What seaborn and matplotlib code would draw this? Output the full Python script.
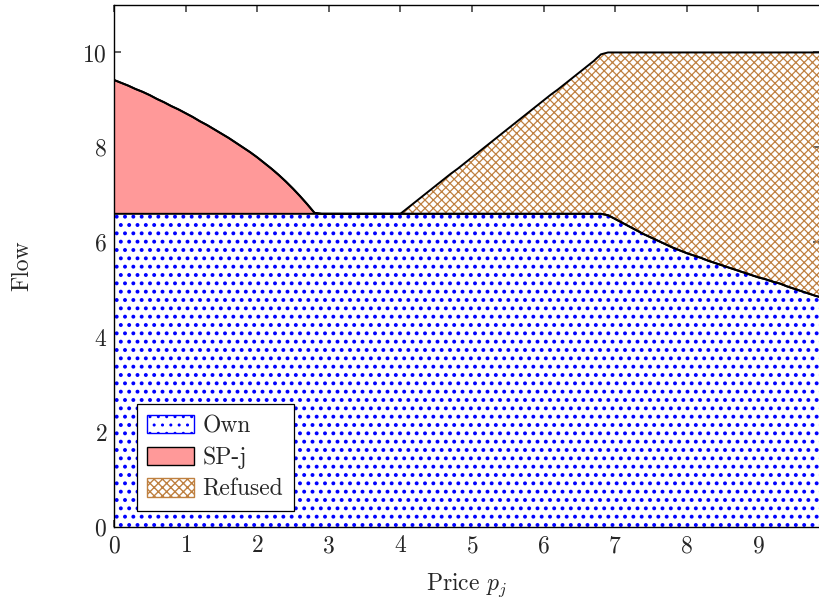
import numpy as np
import pandas as pd
import seaborn as sns
import matplotlib.pyplot as plt
from matplotlib.patches import Patch

# price grid (step of 0.1)
price = np.round(np.arange(0, 10.0, 0.1), 1)

# own flow: flat at 6.6 up to p=6.8, then falling
own = [6.6] * 69 + [
    6.57, 6.49, 6.41, 6.33, 6.25, 6.17, 6.10, 6.03, 5.96, 5.89, 5.83,
    5.77, 5.72, 5.67, 5.61, 5.56, 5.51, 5.46, 5.41, 5.36, 5.31,
    5.26, 5.22, 5.17, 5.13, 5.07, 5.02, 4.97, 4.92, 4.87, 4.83,
]

# SP-j flow on top of own
spj = [
    2.82, 2.76, 2.70, 2.63, 2.57, 2.50, 2.42, 2.35, 2.27, 2.20,
    2.12, 2.04, 1.95, 1.87, 1.78, 1.69, 1.60, 1.50, 1.40, 1.30,
    1.19, 1.07, 0.95, 0.82, 0.68, 0.53, 0.37, 0.20, 0.02,
] + [0.0] * 71

# refused flow on top
refused = [0.0] * 40 + [
    0.00, 0.12, 0.24, 0.36, 0.48, 0.60, 0.72, 0.84, 0.95, 1.07,
    1.19, 1.31, 1.43, 1.55, 1.67, 1.79, 1.91, 2.03, 2.15, 2.27,
    2.39, 2.51, 2.62, 2.74, 2.86, 2.98, 3.10, 3.22, 3.36,
] + [
    3.43, 3.51, 3.59, 3.67, 3.75, 3.83, 3.90, 3.97, 4.04, 4.11, 4.17,
    4.23, 4.28, 4.33, 4.39, 4.44, 4.49, 4.54, 4.59, 4.64, 4.69,
    4.74, 4.78, 4.83, 4.87, 4.93, 4.98, 5.03, 5.08, 5.13, 5.17,
]

df = pd.DataFrame({"price": price, "own": own, "spj": spj, "refused": refused})
df["top_own"] = df["own"]
df["top_spj"] = df["own"] + df["spj"]
df["top_ref"] = df["top_spj"] + df["refused"]

sns.set_theme(style="ticks")
plt.rcParams["font.family"] = ["cmr10", "DejaVu Serif"]
plt.rcParams["mathtext.fontset"] = "cm"
plt.rcParams["axes.formatter.use_mathtext"] = True
plt.rcParams["axes.unicode_minus"] = False

fig = plt.figure(figsize=(8.2, 6.01), dpi=100)
ax = fig.add_axes([0.139, 0.1231, 0.861, 0.8686])

blue = (0, 0, 1)
pink = (1, 0.6, 0.6)
brown = (0.75, 0.5, 0.25)

with plt.rc_context({"hatch.linewidth": 1.6}):
    ax.fill_between(df["price"], 0, df["top_own"],
                    facecolor="white", edgecolor=blue, hatch="..", linewidth=0)
ax.fill_between(df["price"], df["top_own"], df["top_spj"],
                facecolor=pink, linewidth=0)
with plt.rc_context({"hatch.linewidth": 0.9}):
    ax.fill_between(df["price"], df["top_spj"], df["top_ref"],
                    facecolor="none", edgecolor=brown, hatch="xxxx", linewidth=0)

for col in ["top_own", "top_spj", "top_ref"]:
    sns.lineplot(data=df, x="price", y=col, ax=ax, color="black", linewidth=1.4)

ax.set_xlim(0, 9.86)
ax.set_ylim(0, 11)
ax.set_xticks(range(0, 10))
ax.set_yticks(range(0, 11, 2))
ax.tick_params(direction="in", top=True, right=True, length=5,
               labelsize=17, color="0.3")
ax.tick_params(axis="y", pad=5)
ax.tick_params(axis="x", pad=6)
for s in ax.spines.values():
    s.set_color("black")
    s.set_linewidth(1.0)

ax.set_xlabel("Price $p_j$", fontsize=17, labelpad=10)
ax.set_ylabel("Flow", fontsize=17, labelpad=35)

with plt.rc_context({"hatch.linewidth": 1.6}):
    h_own = Patch(facecolor="white", edgecolor=blue, hatch="..", label="Own")
h_spj = Patch(facecolor=pink, edgecolor="black", label="SP-j")
with plt.rc_context({"hatch.linewidth": 0.9}):
    h_ref = Patch(facecolor="white", edgecolor=brown, hatch="xxxx", label="Refused")

leg = ax.legend(handles=[h_own, h_spj, h_ref], loc="lower left",
                bbox_to_anchor=(0.032, 0.03), borderaxespad=0, fontsize=17,
                fancybox=False, framealpha=1, edgecolor="black",
                handlelength=2.0, handleheight=0.8, handletextpad=0.35,
                labelspacing=0.4, borderpad=0.45)
leg.get_frame().set_linewidth(0.9)

fig.savefig("out.png", dpi=100)
